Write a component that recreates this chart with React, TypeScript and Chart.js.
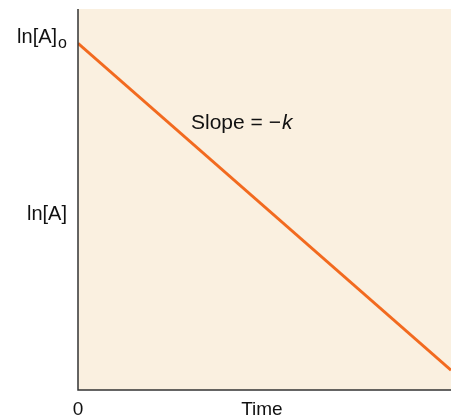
import React, { useEffect, useRef } from "react";
import { Chart, registerables } from "chart.js";

Chart.register(...registerables);

// Data (arbitrary units)
const timeValues = [0, 10];
const lnAValues = [9.1, 0.52];
const yTickValues = [9.1, 4.6];
const yTickLabels = ["ln[A]", "ln[A]"];
const yTickSubs = ["o", ""];
const xTickValues = [0, 4.93];
const xTickLabels = ["0", "Time"];
const slopeLabel = { x: 3.03, y: 7.01, text: "Slope = \u2212", italic: "k" };

const FONT = '"Liberation Sans", Arial, sans-serif';

const decorPlugin = {
  id: "decor",
  beforeDraw(chart: any) {
    const { ctx, chartArea } = chart;
    ctx.save();
    ctx.fillStyle = "#FAF0E0";
    ctx.fillRect(chartArea.left, chartArea.top, chartArea.right - chartArea.left, chartArea.bottom - chartArea.top);
    ctx.restore();
  },
  afterDraw(chart: any) {
    const { ctx, chartArea, scales } = chart;
    const xs = scales.x;
    const ys = scales.y;
    ctx.save();
    // axes
    ctx.strokeStyle = "#333333";
    ctx.lineWidth = 1.5;
    ctx.beginPath();
    ctx.moveTo(chartArea.left, chartArea.top);
    ctx.lineTo(chartArea.left, chartArea.bottom);
    ctx.lineTo(chartArea.right, chartArea.bottom);
    ctx.stroke();

    ctx.fillStyle = "#111111";
    // y labels
    yTickValues.forEach((v, i) => {
      const py = ys.getPixelForValue(v);
      const right = chartArea.left - 11;
      ctx.font = `20px ${FONT}`;
      if (yTickSubs[i]) {
        ctx.font = `16px ${FONT}`;
        const sw = ctx.measureText(yTickSubs[i]).width;
        ctx.textAlign = "right";
        ctx.textBaseline = "alphabetic";
        ctx.fillText(yTickSubs[i], right, py + 5);
        ctx.font = `20px ${FONT}`;
        ctx.fillText(yTickLabels[i], right - sw - 1, py);
      } else {
        ctx.textAlign = "right";
        ctx.textBaseline = "middle";
        ctx.fillText(yTickLabels[i], right, py);
      }
    });
    // x labels
    ctx.font = `19px ${FONT}`;
    ctx.textAlign = "center";
    ctx.textBaseline = "middle";
    xTickValues.forEach((v, i) => {
      ctx.fillText(xTickLabels[i], xs.getPixelForValue(v), chartArea.bottom + 20);
    });
    // slope annotation
    const sx = xs.getPixelForValue(slopeLabel.x);
    const sy = ys.getPixelForValue(slopeLabel.y);
    ctx.font = `21px ${FONT}`;
    ctx.textAlign = "left";
    ctx.textBaseline = "middle";
    ctx.fillText(slopeLabel.text, sx, sy);
    const w = ctx.measureText(slopeLabel.text).width;
    ctx.font = `italic 21px ${FONT}`;
    ctx.fillText(slopeLabel.italic, sx + w + 1, sy);
    ctx.restore();
  },
};

export default function App() {
  const ref = useRef<HTMLCanvasElement>(null);
  useEffect(() => {
    const chart = new Chart(ref.current!, {
      type: "line",
      data: {
        datasets: [
          {
            data: timeValues.map((t, i) => ({ x: t, y: lnAValues[i] })),
            borderColor: "#F26A1F",
            borderWidth: 3,
            pointRadius: 0,
            fill: false,
          },
        ],
      },
      options: {
        animation: false,
        responsive: false,
        layout: { padding: { left: 78, top: 9, right: 0, bottom: 28 } },
        plugins: { legend: { display: false }, tooltip: { enabled: false } },
        scales: {
          x: { type: "linear", min: 0, max: 10, display: false },
          y: { type: "linear", min: 0, max: 10, display: false },
        },
      },
      plugins: [decorPlugin],
    });
    return () => chart.destroy();
  }, []);
  return (
    <div style={{ position: "fixed", left: 0, top: 0, width: 451, height: 418, background: "#fff" }}>
      <canvas ref={ref} width={451} height={418} style={{ display: "block" }} />
    </div>
  );
}
